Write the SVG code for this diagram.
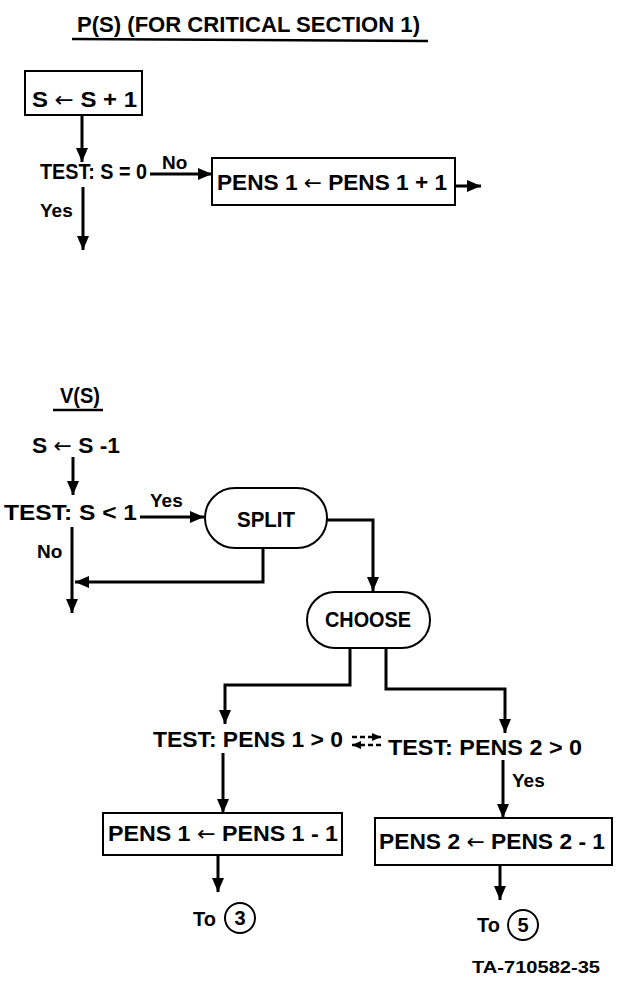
<svg xmlns="http://www.w3.org/2000/svg" width="620" height="981" viewBox="0 0 620 981">
<defs>
<marker id="ah" markerUnits="userSpaceOnUse" markerWidth="15" markerHeight="12" refX="14" refY="6" orient="auto">
<path d="M0,0 L14,6 L0,12 z" fill="#000"/>
</marker>
<marker id="ahs" markerUnits="userSpaceOnUse" markerWidth="10" markerHeight="8" refX="9" refY="4" orient="auto">
<path d="M0,0 L9,4 L0,8 z" fill="#000"/>
</marker>
<style>
text{font-family:"Liberation Sans",Arial,sans-serif;font-weight:bold;fill:#000}
.m{font-size:22px}
.l{font-size:19px}
.t{font-size:20px}
.s{font-size:16px}
.ar{font-family:"DejaVu Sans",sans-serif;font-weight:normal;font-size:21px}
.box{fill:none;stroke:#000;stroke-width:2}
.c{fill:none;stroke:#000;stroke-width:3}
.d{fill:none;stroke:#000;stroke-width:2.5;stroke-dasharray:5 3}
</style>
</defs>
<rect width="620" height="981" fill="#fff"/>
<g id="title">
<text class="m" x="77" y="32" textLength="343" lengthAdjust="spacingAndGlyphs">P(S) (FOR CRITICAL SECTION 1)</text>
<line x1="72" y1="39" x2="428" y2="41" stroke="#000" stroke-width="2.5"/>
</g>
<g id="p-inc">
<rect class="box" x="25" y="71" width="117" height="44"/>
<text class="m" x="32" y="107" textLength="105" lengthAdjust="spacingAndGlyphs">S <tspan class="ar">←</tspan> S + 1</text>
</g>
<g id="p-test">
<text class="m" x="40" y="179" textLength="107" lengthAdjust="spacingAndGlyphs">TEST: S = 0</text>
</g>
<g id="p-pens">
<rect class="box" x="212" y="158" width="243" height="47"/>
<text class="m" x="217" y="190" textLength="230" lengthAdjust="spacingAndGlyphs">PENS 1 <tspan class="ar">←</tspan> PENS 1 + 1</text>
</g>
<g id="v-title">
<text class="m" x="60" y="403" textLength="40" lengthAdjust="spacingAndGlyphs">V(S)</text>
<line x1="53" y1="410" x2="103" y2="410" stroke="#000" stroke-width="2.5"/>
</g>
<g id="v-dec">
<text class="m" x="32" y="453" textLength="88" lengthAdjust="spacingAndGlyphs">S <tspan class="ar">←</tspan> S -1</text>
</g>
<g id="v-test">
<text class="m" x="4" y="520" textLength="133" lengthAdjust="spacingAndGlyphs">TEST: S &lt; 1</text>
</g>
<g id="split">
<rect class="box" x="205" y="488" width="122" height="60" rx="30"/>
<text class="m" x="237" y="527" textLength="58" lengthAdjust="spacingAndGlyphs">SPLIT</text>
</g>
<g id="choose">
<rect class="box" x="307" y="592" width="123" height="56" rx="28"/>
<text class="m" x="325" y="627" textLength="86" lengthAdjust="spacingAndGlyphs">CHOOSE</text>
</g>
<g id="test1">
<text class="m" x="153" y="747" textLength="190" lengthAdjust="spacingAndGlyphs">TEST: PENS 1 &gt; 0</text>
</g>
<g id="test2">
<text class="m" x="388" y="755" textLength="194" lengthAdjust="spacingAndGlyphs">TEST: PENS 2 &gt; 0</text>
</g>
<g id="dec1">
<rect class="box" x="103" y="813" width="239" height="42"/>
<text class="m" x="108" y="841" textLength="230" lengthAdjust="spacingAndGlyphs">PENS 1 <tspan class="ar">←</tspan> PENS 1 - 1</text>
</g>
<g id="dec2">
<rect class="box" x="375" y="818" width="237" height="47"/>
<text class="m" x="379" y="849" textLength="226" lengthAdjust="spacingAndGlyphs">PENS 2 <tspan class="ar">←</tspan> PENS 2 - 1</text>
</g>
<g id="to3">
<text class="t" x="193" y="926">To</text>
<circle cx="240" cy="918" r="15" fill="none" stroke="#000" stroke-width="2"/>
<text class="t" x="240" y="925" text-anchor="middle">3</text>
</g>
<g id="to5">
<text class="t" x="477" y="932">To</text>
<circle cx="523" cy="925" r="15" fill="none" stroke="#000" stroke-width="2"/>
<text class="t" x="523" y="932" text-anchor="middle">5</text>
</g>
<g id="connectors">
<path class="c" d="M82,115 V162" marker-end="url(#ah)"/>
<path class="c" d="M150,174 H212" marker-end="url(#ah)"/>
<path class="c" d="M455,186 H481" marker-end="url(#ah)"/>
<path class="c" d="M83,187 V250" marker-end="url(#ah)"/>
<path class="c" d="M73,457 V495" marker-end="url(#ah)"/>
<path class="c" d="M140,517 H204" marker-end="url(#ah)"/>
<path class="c" d="M72,527 V613" marker-end="url(#ah)"/>
<path class="c" d="M263,548 V582 H75" marker-end="url(#ah)"/>
<path class="c" d="M327,520 H373 V591" marker-end="url(#ah)"/>
<path class="c" d="M350,648 V685 H225 V724" marker-end="url(#ah)"/>
<path class="c" d="M386,648 V689 H505 V733" marker-end="url(#ah)"/>
<path class="d" d="M352,737 H381" marker-end="url(#ahs)"/>
<path class="d" d="M381,745 H352" marker-end="url(#ahs)"/>
<path class="c" d="M223,753 V813" marker-end="url(#ah)"/>
<path class="c" d="M503,760 V818" marker-end="url(#ah)"/>
<path class="c" d="M218,855 V892" marker-end="url(#ah)"/>
<path class="c" d="M500,865 V900" marker-end="url(#ah)"/>
</g>
<g id="labels">
<text class="l" x="162" y="169">No</text>
<text class="l" x="40" y="217">Yes</text>
<text class="l" x="150" y="507">Yes</text>
<text class="l" x="37" y="558">No</text>
<text class="l" x="512" y="787">Yes</text>
<text class="s" x="472" y="973" textLength="128" lengthAdjust="spacingAndGlyphs">TA-710582-35</text>
</g>
</svg>
